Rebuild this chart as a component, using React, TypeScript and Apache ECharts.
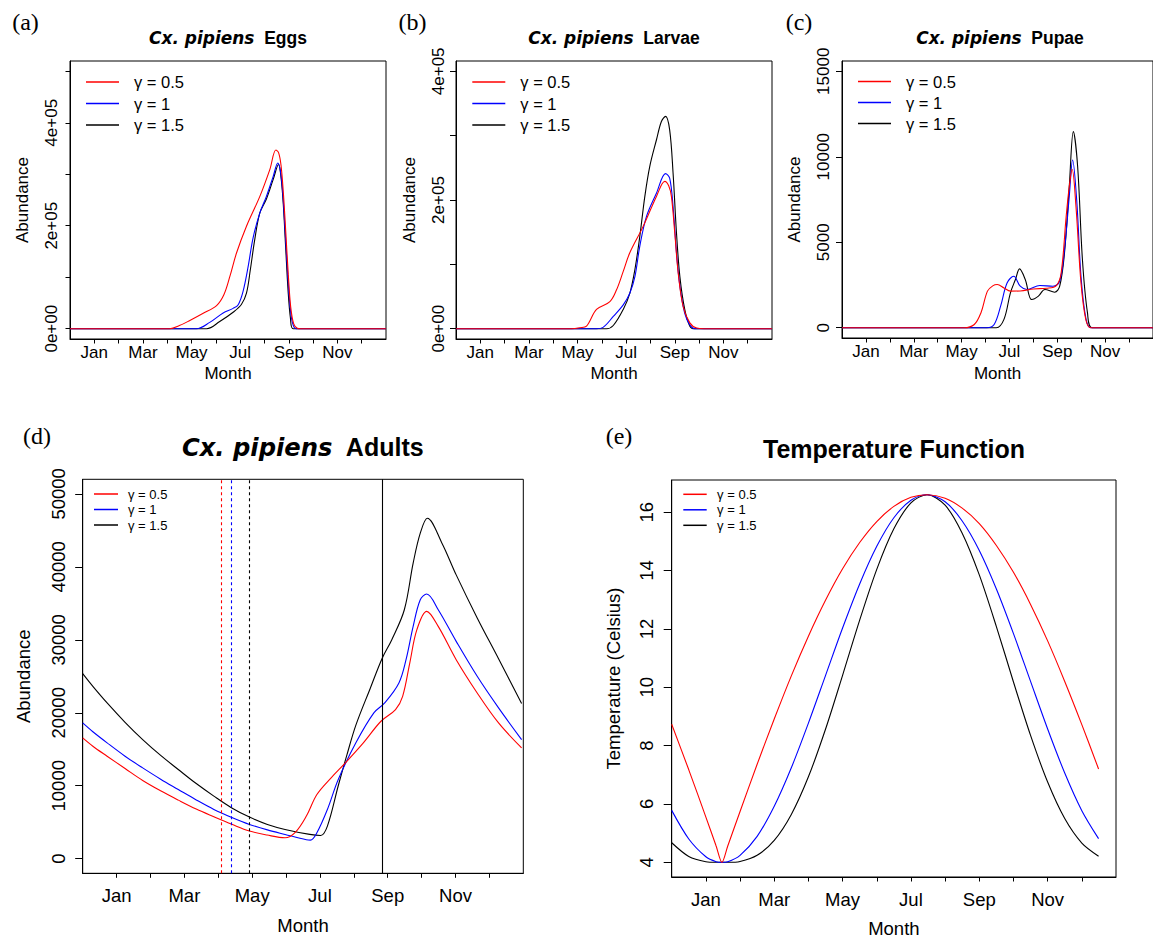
import React, { useEffect, useRef } from "react";
import * as echarts from "echarts";

// ---------- shared axis content ----------
const monthNames = ["Jan", "Feb", "Mar", "Apr", "May", "Jun", "Jul", "Aug", "Sep", "Oct", "Nov", "Dec"];
const monthTickValues = [1, 2, 3, 4, 5, 6, 7, 8, 9, 10, 11, 12];
const monthLabelValues = [1, 3, 5, 7, 9, 11];
const gammaNames = ["γ = 0.5", "γ = 1", "γ = 1.5"];
const gammaColors = ["#ff0000", "#0000ff", "#000000"];

// ---------- (a) Eggs ----------
const eggsTicks = [0, 100000, 200000, 300000, 400000, 500000];
const eggsLabels = [0, 200000, 400000];
const eggsRedMonths = [0, 4.1, 4.5, 4.93, 5.48, 6.03, 6.33, 6.58, 6.85, 7.26, 7.81, 8.22, 8.47, 8.58, 8.68, 8.78, 8.88, 8.98, 9.08, 9.2, 9.35, 9.5, 13];
const eggsRedValues = [0, 0, 6000, 16000, 30000, 45000, 66000, 102000, 147000, 199000, 257000, 309000, 347000, 342000, 318000, 262000, 185000, 105000, 42000, 10000, 1000, 0, 0];
const eggsBlueMonths = [0, 5.2, 5.75, 6.3, 6.71, 6.92, 7.12, 7.33, 7.53, 7.81, 8.08, 8.36, 8.55, 8.65, 8.75, 8.85, 8.95, 9.05, 9.15, 9.3, 13];
const eggsBlueValues = [0, 0, 12300, 30500, 39500, 46700, 72600, 121000, 176000, 225000, 257000, 296000, 322000, 308000, 265000, 190000, 110000, 45000, 12000, 0, 0];
const eggsBlackMonths = [0, 5.62, 6.16, 6.71, 7.05, 7.26, 7.42, 7.6, 7.81, 8.08, 8.36, 8.58, 8.68, 8.77, 8.87, 8.97, 9.07, 9.18, 13];
const eggsBlackValues = [0, 0, 14000, 32000, 47000, 69000, 115000, 173000, 225000, 252000, 290000, 319000, 295000, 245000, 160000, 75000, 20000, 0, 0];

// ---------- (b) Larvae ----------
const larvaeTicks = [0, 100000, 200000, 300000, 400000];
const larvaeLabels = [0, 200000, 400000];
const larvaeRedMonths = [0, 4.75, 5.1, 5.37, 5.78, 6.33, 6.6, 6.88, 7.15, 7.7, 8.25, 8.59, 8.75, 8.86, 9.0, 9.14, 9.34, 9.62, 9.9, 10.2, 13];
const larvaeRedValues = [0, 0, 1500, 4000, 30000, 42000, 60000, 89000, 118000, 159000, 206000, 229000, 222000, 206000, 149000, 87000, 35000, 9000, 1000, 0, 0];
const larvaeBlueMonths = [0, 5.78, 6.05, 6.47, 6.88, 7.15, 7.36, 7.56, 7.84, 8.25, 8.62, 8.79, 8.93, 9.07, 9.21, 9.41, 9.62, 9.82, 13];
const larvaeBlueValues = [0, 0, 2000, 19000, 37000, 55000, 81000, 128000, 175000, 211000, 241000, 234000, 190000, 118000, 66000, 24000, 6000, 0, 0];
const larvaeBlackMonths = [0, 6.19, 6.47, 6.88, 7.15, 7.36, 7.56, 7.77, 7.97, 8.25, 8.45, 8.62, 8.79, 8.93, 9.07, 9.21, 9.41, 9.62, 9.82, 13];
const larvaeBlackValues = [0, 0, 5000, 30000, 55000, 92000, 143000, 206000, 252000, 294000, 322000, 330000, 309000, 242000, 149000, 81000, 30000, 4000, 0, 0];

// ---------- (c) Pupae ----------
const pupaeTicks = [0, 5000, 10000, 15000];
const pupaeRedMonths = [0, 5.1, 5.53, 5.81, 6.08, 6.3, 6.49, 6.77, 7.04, 7.45, 8.0, 8.55, 8.96, 9.16, 9.37, 9.5, 9.62, 9.78, 9.99, 10.19, 10.4, 13];
const pupaeRedValues = [0, 0, 190, 880, 2140, 2450, 2530, 2330, 2140, 2150, 2270, 2310, 2470, 3200, 6500, 8260, 9270, 7090, 2620, 490, 0, 0];
const pupaeBlueMonths = [0, 6.05, 6.36, 6.63, 6.9, 7.18, 7.45, 7.73, 8.27, 8.82, 9.1, 9.3, 9.5, 9.64, 9.81, 9.99, 10.19, 10.4, 13];
const pupaeBlueValues = [0, 0, 190, 1260, 2620, 3010, 2430, 2240, 2470, 2430, 2720, 4570, 7680, 9810, 7480, 3010, 580, 0, 0];
const pupaeBlackMonths = [0, 6.45, 6.77, 7.04, 7.25, 7.42, 7.66, 7.93, 8.21, 8.48, 8.89, 9.1, 9.3, 9.5, 9.67, 9.85, 10.05, 10.26, 10.47, 13];
const pupaeBlackValues = [0, 0, 490, 2040, 2820, 3440, 2820, 1650, 1850, 2240, 2080, 2430, 4370, 8260, 11470, 9430, 3980, 880, 0, 0];

// ---------- (d) Adults ----------
const adultTicks = [0, 10000, 20000, 30000, 40000, 50000];
const adultRedMonths = [0, 0.3, 0.72, 1.25, 1.77, 2.3, 2.82, 3.35, 3.87, 4.4, 4.92, 5.44, 5.97, 6.28, 6.6, 6.91, 7.33, 7.75, 8.28, 8.8, 9.23, 9.44, 9.65, 9.86, 10.15, 10.49, 11.02, 11.64, 12.27, 12.95];
const adultRedValues = [16560, 15420, 14050, 12360, 10720, 9300, 8030, 6800, 5750, 4720, 3790, 3240, 2870, 3650, 5840, 8800, 11090, 13140, 15880, 18840, 20440, 22260, 26820, 31390, 33900, 31840, 27280, 22720, 18610, 15190];
const adultBlueMonths = [0, 0.3, 0.72, 1.25, 1.77, 2.3, 2.82, 3.35, 3.87, 4.4, 4.92, 5.45, 5.97, 6.6, 6.72, 6.91, 7.22, 7.54, 8.06, 8.59, 8.91, 9.33, 9.54, 9.75, 9.96, 10.15, 10.49, 11.02, 11.64, 12.27, 12.95];
const adultBlueValues = [18610, 17400, 15880, 14050, 12450, 10900, 9490, 8060, 6750, 5650, 4700, 3950, 3330, 2600, 2550, 3560, 6750, 10860, 15880, 19980, 21350, 24090, 27280, 31840, 35490, 36270, 34120, 29790, 25000, 20670, 16330];
const adultBlackMonths = [0, 0.3, 0.72, 1.25, 1.77, 2.3, 2.82, 3.35, 3.87, 4.4, 4.92, 5.45, 5.97, 6.7, 7.02, 7.22, 7.54, 7.8, 8.06, 8.48, 8.84, 9.12, 9.49, 9.75, 9.96, 10.17, 10.6, 11.02, 11.64, 12.27, 12.95];
const adultBlackValues = [25360, 23620, 21350, 18700, 16330, 14160, 12230, 10300, 8580, 6960, 5700, 4690, 4010, 3330, 3190, 4470, 10000, 14300, 18300, 23300, 27510, 30020, 34120, 40510, 44620, 46670, 43250, 38900, 33000, 27400, 21260];
const adultDashedMonths = [4.08, 4.37, 4.91];
const adultSolidMonth = 8.85;

// ---------- (e) Temperature ----------
const tempTicks = [4, 6, 8, 10, 12, 14, 16];
const tempMonths = [0, 0.5, 1.0, 1.3, 1.47, 1.64, 2.0, 2.5, 3.0, 3.5, 4.0, 4.5, 5.0, 5.5, 6.0, 6.5, 7.0, 7.47, 8.0, 8.5, 9.0, 9.5, 10.0, 10.5, 11.0, 11.5, 12.0, 12.49];
const tempRed = [8.73, 7.17, 5.55, 4.56, 4.0, 4.56, 5.74, 7.36, 8.91, 10.39, 11.75, 12.98, 14.06, 14.96, 15.68, 16.2, 16.51, 16.6, 16.48, 16.14, 15.61, 14.86, 13.94, 12.84, 11.59, 10.2, 8.72, 7.2];
const tempBlue = [5.78, 4.8, 4.19, 4.02, 4.0, 4.02, 4.24, 4.89, 5.92, 7.24, 8.77, 10.4, 12.03, 13.54, 14.83, 15.81, 16.41, 16.6, 16.36, 15.7, 14.69, 13.37, 11.84, 10.2, 8.57, 7.06, 5.77, 4.81];
const tempBlack = [4.67, 4.2, 4.02, 4.0, 4.0, 4.0, 4.03, 4.24, 4.75, 5.64, 6.93, 8.56, 10.41, 12.3, 14.04, 15.43, 16.32, 16.6, 16.24, 15.28, 13.85, 12.08, 10.18, 8.35, 6.75, 5.5, 4.66, 4.21];

const SANS = "'Liberation Sans', Arial, Helvetica, sans-serif";
const SERIF = "'Liberation Serif', 'DejaVu Serif', serif";

function sci(v: number): string {
  if (v === 0) return "0e+00";
  const e = Math.floor(Math.log10(Math.abs(v)));
  const m = Math.round((v / Math.pow(10, e)) * 100) / 100;
  return `${m}e+${String(e).padStart(2, "0")}`;
}

function makeX(gi: number, fontSize: number, labelMargin: number, nameGap: number) {
  return {
    type: "value",
    gridIndex: gi,
    min: 0,
    max: 13,
    interval: 1,
    axisLine: { show: true, onZero: false, lineStyle: { color: "#000", width: 1 } },
    axisTick: { show: true, length: 4.5, customValues: monthTickValues, lineStyle: { color: "#000" } },
    axisLabel: {
      customValues: monthLabelValues,
      formatter: (v: number) => monthNames[Math.round(v) - 1] || "",
      fontSize,
      fontFamily: SANS,
      color: "#000",
      margin: labelMargin,
    },
    splitLine: { show: false },
    name: "Month",
    nameLocation: "middle",
    nameGap,
    nameTextStyle: { fontSize, fontFamily: SANS, color: "#000" },
  };
}

function makeY(
  gi: number,
  min: number,
  max: number,
  ticks: number[],
  labels: number[],
  fmt: (v: number) => string,
  fontSize: number,
  labelMargin: number,
  tickLen: number,
  name: string,
  nameGap: number
) {
  return {
    type: "value",
    gridIndex: gi,
    min,
    max,
    axisLine: { show: true, lineStyle: { color: "#000", width: 1 } },
    axisTick: { show: true, length: tickLen, customValues: ticks, lineStyle: { color: "#000" } },
    axisLabel: {
      customValues: labels,
      formatter: fmt,
      rotate: 90,
      fontSize,
      fontFamily: SANS,
      color: "#000",
      margin: labelMargin,
    },
    splitLine: { show: false },
    name,
    nameLocation: "middle",
    nameGap,
    nameTextStyle: { fontSize, fontFamily: SANS, color: "#000" },
  };
}

function lineSeries(
  nameIdx: number,
  months: number[],
  values: number[],
  axisIdx: number,
  smooth: number,
  extra: Record<string, unknown> = {}
) {
  const color = gammaColors[nameIdx];
  return {
    type: "line",
    name: gammaNames[nameIdx],
    xAxisIndex: axisIdx,
    yAxisIndex: axisIdx,
    data: months.map((m, i) => [m, values[i]]),
    showSymbol: false,
    symbol: "none",
    smooth,
    color,
    itemStyle: { color },
    lineStyle: { color, width: 1.1 },
    silent: true,
    ...extra,
  };
}

function vMarker(months: number[], color: string, dashed: boolean) {
  return {
    silent: true,
    symbol: ["none", "none"],
    label: { show: false },
    lineStyle: { color, type: dashed ? [3, 3] : "solid", width: 1.1 },
    data: months.map((m) => ({ xAxis: m, lineStyle: { color, type: dashed ? [3, 3] : "solid", width: 1.1 } })),
  };
}

function legendAt(left: number, top: number, itemWidth: number, lineHeight: number, fontSize: number, padLeft: number) {
  return {
    orient: "vertical",
    left,
    top,
    padding: 0,
    itemGap: 0,
    itemWidth,
    itemHeight: 1.5,
    icon: "rect",
    selectedMode: false,
    data: gammaNames,
    itemStyle: { borderWidth: 0 },
    textStyle: { fontSize, fontFamily: SANS, color: "#000", lineHeight, padding: [0, 0, 0, padLeft] },
  };
}

function titleText(x: number, y: number, italicPart: string, boldPart: string, size: number) {
  return {
    type: "text",
    x,
    y,
    silent: true,
    style: {
      text: `{i|${italicPart}}{b|  ${boldPart}}`,
      align: "center",
      verticalAlign: "middle",
      rich: {
        i: { fontFamily: "'DejaVu Sans', sans-serif", fontStyle: "italic", fontWeight: "bold", fontSize: size * 0.97, fill: "#000" },
        b: { fontFamily: SANS, fontWeight: "bold", fontSize: size, fill: "#000" },
      },
    },
  };
}

function panelLabel(x: number, y: number, t: string) {
  return {
    type: "text",
    x,
    y,
    silent: true,
    style: { text: t, align: "center", verticalAlign: "middle", fontFamily: SERIF, fontSize: 24, fill: "#000" },
  };
}

export default function App() {
  const ref = useRef<HTMLDivElement>(null);

  useEffect(() => {
    if (!ref.current) return;
    const chart = echarts.init(ref.current, undefined, { renderer: "svg" });
    const gridBase = { show: true, borderColor: "#000", borderWidth: 1, backgroundColor: "transparent", containLabel: false };

    const option = {
      animation: false,
      textStyle: { fontFamily: SANS },
      grid: [
        { ...gridBase, left: 70, top: 61, width: 316, height: 278 },
        { ...gridBase, left: 456, top: 61, width: 316, height: 278 },
        { ...gridBase, left: 842, top: 61, width: 317, height: 277 },
        { ...gridBase, left: 82.7, top: 479.3, width: 440.6, height: 394 },
        { ...gridBase, left: 671.7, top: 480, width: 444.3, height: 397.3 },
      ],
      xAxis: [
        makeX(0, 17, 5, 26),
        makeX(1, 17, 5, 26),
        makeX(2, 17, 5, 26.5),
        makeX(3, 18.5, 12.7, 43),
        makeX(4, 18.5, 13, 42),
      ],
      yAxis: [
        makeY(0, -20000, 520000, eggsTicks, eggsLabels, sci, 17, 9.8, 4.5, "Abundance", 39),
        makeY(1, -16000, 416000, larvaeTicks, larvaeLabels, sci, 17, 9.2, 6, "Abundance", 38.5),
        makeY(2, -600, 15600, pupaeTicks, pupaeTicks, (v: number) => String(v), 17, 10.2, 6, "Abundance", 39),
        makeY(3, -2000, 52000, adultTicks, adultTicks, (v: number) => String(v), 18.5, 15, 7.5, "Abundance", 49.7),
        makeY(4, 3.496, 17.104, tempTicks, tempTicks, (v: number) => String(v), 18.5, 16, 8, "Temperature (Celsius)", 48.7),
      ],
      legend: [
        legendAt(86, 71.25, 33, 21.5, 16.5, 10),
        legendAt(472.3, 71.25, 33, 21.5, 16.5, 10),
        legendAt(858, 71.0, 33, 21, 16.5, 10),
        legendAt(94, 486.25, 24, 15.5, 13, 5),
        legendAt(683.3, 486.55, 23.4, 15.5, 13, 5.4),
      ],
      series: [
        lineSeries(2, eggsBlackMonths, eggsBlackValues, 0, 0.35),
        lineSeries(1, eggsBlueMonths, eggsBlueValues, 0, 0.35),
        lineSeries(0, eggsRedMonths, eggsRedValues, 0, 0.35),

        lineSeries(2, larvaeBlackMonths, larvaeBlackValues, 1, 0.35),
        lineSeries(1, larvaeBlueMonths, larvaeBlueValues, 1, 0.35),
        lineSeries(0, larvaeRedMonths, larvaeRedValues, 1, 0.35),

        lineSeries(2, pupaeBlackMonths, pupaeBlackValues, 2, 0.35),
        lineSeries(1, pupaeBlueMonths, pupaeBlueValues, 2, 0.35),
        lineSeries(0, pupaeRedMonths, pupaeRedValues, 2, 0.35),

        lineSeries(2, adultBlackMonths, adultBlackValues, 3, 0.35, {
          markLine: vMarker([adultDashedMonths[2]], gammaColors[2], true),
        }),
        lineSeries(1, adultBlueMonths, adultBlueValues, 3, 0.35, {
          markLine: vMarker([adultDashedMonths[1]], gammaColors[1], true),
        }),
        lineSeries(0, adultRedMonths, adultRedValues, 3, 0.35, {
          markLine: vMarker([adultDashedMonths[0]], gammaColors[0], true),
        }),
        {
          type: "line",
          name: "season marker",
          xAxisIndex: 3,
          yAxisIndex: 3,
          data: [],
          silent: true,
          markLine: vMarker([adultSolidMonth], "#000000", false),
        },

        lineSeries(2, tempMonths, tempBlack, 4, 0.3),
        lineSeries(1, tempMonths, tempBlue, 4, 0.3),
        lineSeries(0, tempMonths, tempRed, 4, 0.3),
      ],
      graphic: [
        titleText(228, 38, "Cx. pipiens", "Eggs", 17.5),
        titleText(614, 38, "Cx. pipiens", "Larvae", 17.5),
        titleText(1000, 38, "Cx. pipiens", "Pupae", 17.5),
        titleText(303, 447, "Cx. pipiens", "Adults", 25),
        { type: "text", x: 894, y: 449, silent: true, style: { text: "Temperature Function", align: "center", verticalAlign: "middle", fontFamily: SANS, fontWeight: "bold", fontSize: 25, fill: "#000" } },
        panelLabel(25.5, 21.5, "(a)"),
        panelLabel(412.5, 21.5, "(b)"),
        panelLabel(799, 21.5, "(c)"),
        panelLabel(37, 436, "(d)"),
        panelLabel(619, 436, "(e)"),
      ],
    };

    chart.setOption(option as any);
    return () => {
      chart.dispose();
    };
  }, []);

  return (
    <div
      ref={ref}
      style={{ position: "absolute", left: 0, top: 0, width: 1153, height: 939, background: "#fff" }}
    />
  );
}
